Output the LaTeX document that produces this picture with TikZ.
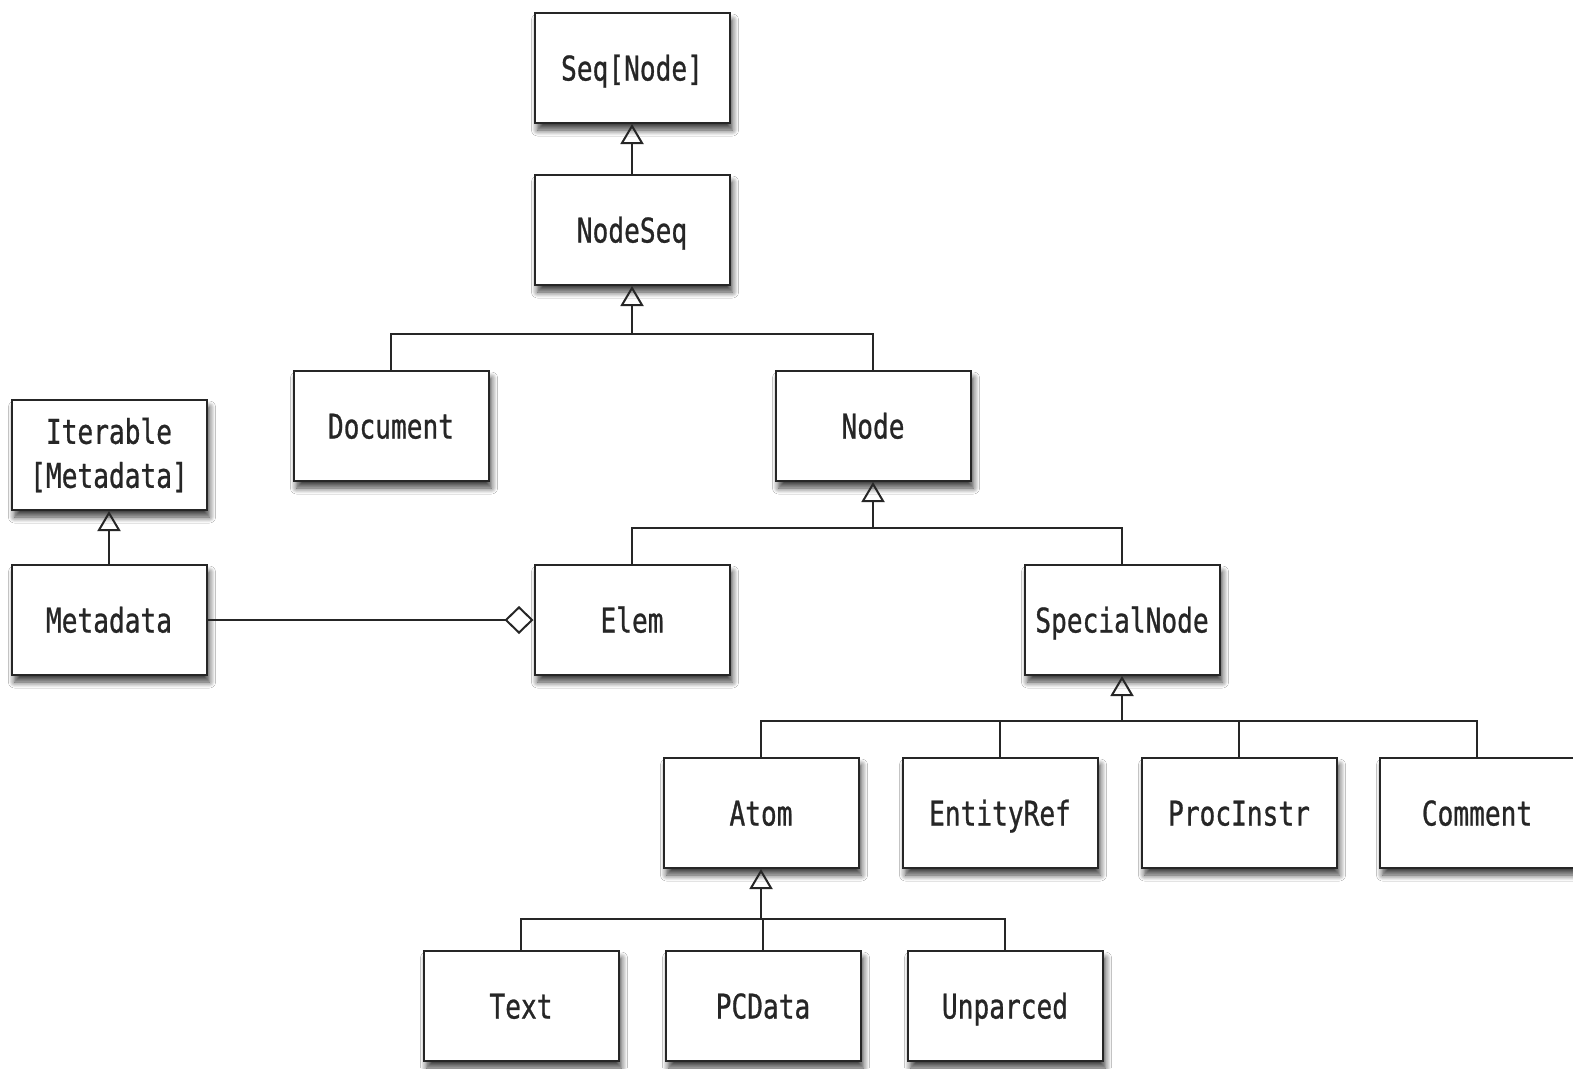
\documentclass[tikz,border=0pt]{standalone}
\usepackage{fontspec}
\newfontfamily\umlfont[FakeStretch=0.77,FakeBold=0.8]{DejaVu Sans Mono}
\usetikzlibrary{arrows.meta,shadows.blur}
\begin{document}
\begin{tikzpicture}[x=1pt,y=-1pt,
  cls/.style={draw=black!85, line width=2pt, fill=white, minimum width=195pt, minimum height=110pt,
    inner sep=0pt, align=center, font=\umlfont\fontsize{34}{42}\selectfont, text=black!85,
    text height=25pt, text depth=0pt,
    blur shadow={shadow xshift=3pt, shadow yshift=-7pt, shadow blur radius=6pt, shadow blur steps=8, shadow opacity=75}},
  conn/.style={draw=black!85, line width=2pt},
  inh/.style={conn, -{Triangle[open, length=20pt, width=23pt, line width=2pt]}},
  agg/.style={conn, -{Diamond[open, length=29pt, width=28pt, line width=2pt]}}]
\useasboundingbox[fill=white] (0,0) rectangle (1573,1068);
% nodes
\node[cls] (seq) at (632,68) {Seq[Node]};
\node[cls] (nodeseq) at (632,230) {NodeSeq};
\node[cls] (doc) at (391,426) {Document};
\node[cls] (node) at (873,426) {Node};
\node[cls, text height=, text depth=] (iter) at (109,455) {Iterable\\[2pt][Metadata]};
\node[cls] (meta) at (109,620) {Metadata};
\node[cls] (elem) at (632,620) {Elem};
\node[cls] (special) at (1122,620) {SpecialNode};
\node[cls] (atom) at (761,813) {Atom};
\node[cls] (entity) at (1000,813) {EntityRef};
\node[cls] (proc) at (1239,813) {ProcInstr};
\node[cls] (comment) at (1477,813) {Comment};
\node[cls] (text) at (521,1006) {Text};
\node[cls] (pcdata) at (763,1006) {PCData};
\node[cls] (unparced) at (1005,1006) {Unparced};
% bar junctions
\coordinate (b1) at (nodeseq.south |- 0,334);
\coordinate (b2) at (node.south |- 0,528);
\coordinate (b3) at (special.south |- 0,721);
\coordinate (b4) at (atom.south |- 0,919);
% connectors
\draw[inh] (nodeseq.north) -- (seq.south);
\draw[conn] (doc.north) |- (node.north |- b1) -- (node.north);
\draw[inh] (b1) -- (nodeseq.south);
\draw[conn] (elem.north) |- (special.north |- b2) -- (special.north);
\draw[inh] (b2) -- (node.south);
\draw[conn] (atom.north) |- (comment.north |- b3) -- (comment.north);
\draw[conn] (entity.north) -- (entity.north |- b3);
\draw[conn] (proc.north) -- (proc.north |- b3);
\draw[inh] (b3) -- (special.south);
\draw[conn] (text.north) |- (unparced.north |- b4) -- (unparced.north);
\draw[conn] (pcdata.north) -- (pcdata.north |- b4);
\draw[inh] (b4) -- (atom.south);
\draw[inh] (meta.north) -- (iter.south);
\draw[agg] (meta.east) -- (elem.west);
\end{tikzpicture}
\end{document}
